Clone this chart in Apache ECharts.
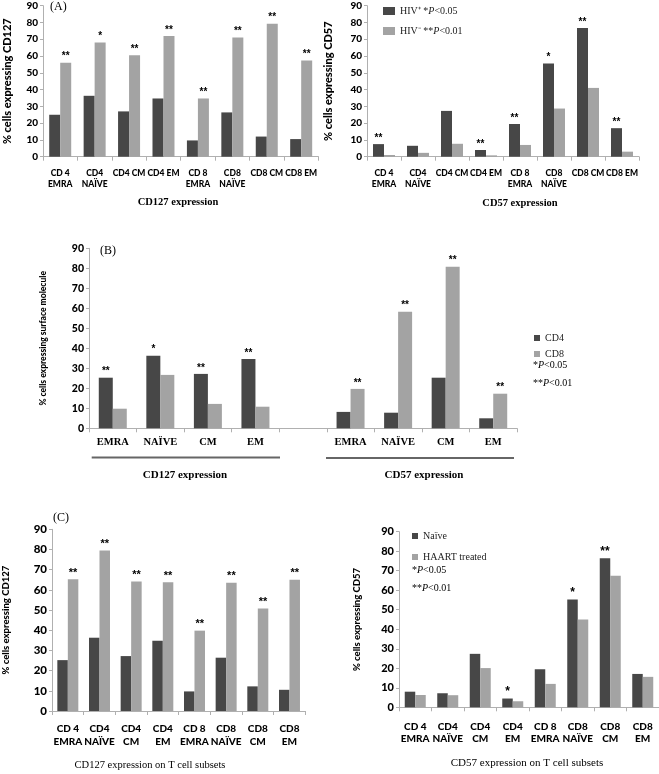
<!DOCTYPE html>
<html>
<head>
<meta charset="UTF-8">
<title>CD127 / CD57 expression</title>
<style>
  html, body { margin: 0; padding: 0; background: #fff; }
  #main { width: 659px; height: 774px; }
</style>
<script src="https://cdn.jsdelivr.net/npm/echarts@6/dist/echarts.min.js"></script>
</head>
<body>
<div id="main"></div>
<script>
  // categories
  var subsetsA = ['CD 4\nEMRA', 'CD4\nNAÏVE', 'CD4 CM', 'CD4 EM', 'CD 8\nEMRA', 'CD8\nNAÏVE', 'CD8 CM', 'CD8 EM'];
  var subsetsC = ['CD 4\nEMRA', 'CD4\nNAÏVE', 'CD4\nCM', 'CD4\nEM', 'CD 8\nEMRA', 'CD8\nNAÏVE', 'CD8\nCM', 'CD8\nEM'];
  var groupsB = ['EMRA', 'NAÏVE', 'CM', 'EM', '', 'EMRA', 'NAÏVE', 'CM', 'EM'];

  // (A) HIV+ vs HIV-
  var aCd127Pos = [25, 36.3, 27, 34.7, 9.7, 26.4, 12, 10.5];
  var aCd127Neg = [56, 68, 60.5, 72, 34.7, 71, 79.3, 57.3];
  var aCd127Sig = ['**', '*', '**', '**', '**', '**', '**', '**'];
  var aCd57Pos = [7.5, 6.5, 27.3, 4, 19.5, 55.5, 76.7, 17];
  var aCd57Neg = [1, 2.3, 7.7, 0.8, 7, 28.7, 41, 3];
  var aCd57Sig = ['**', '', '', '**', '**', '*', '**', '**'];

  // (B) CD4 vs CD8 ('-' = empty gap column)
  var bCd4 = [25.3, 36.3, 27.2, 34.7, '-', 8.2, 7.8, 25.3, 5];
  var bCd8 = [9.8, 26.7, 12.2, 10.8, '-', 19.7, 58.3, 80.8, 17.3];
  var bSig4 = ['**', '*', '**', '**', '', '', '', '', ''];
  var bSig8 = ['', '', '', '', '', '**', '**', '**', '**'];

  // (C) naive vs HAART treated
  var cCd127Naive = [25.2, 36.3, 27.2, 34.8, 9.7, 26.4, 12.2, 10.5];
  var cCd127Haart = [65.3, 79.5, 64.2, 63.8, 39.8, 63.5, 50.8, 65];
  var cCd127Sig = ['**', '**', '**', '**', '**', '**', '**', '**'];
  var cCd57Naive = [8, 7.2, 27.4, 4.5, 19.5, 55.3, 76.4, 17.1];
  var cCd57Haart = [6.3, 6.2, 20.1, 3.1, 12, 45, 67.4, 15.6];
  var cCd57Sig = ['', '', '', '*', '', '*', '**', ''];

  var DARK = '#474747';
  var LIGHT = '#a3a3a3';
  var SANS = 'Lato';
  var SERIF = 'Liberation Serif';

  var chart = echarts.init(document.getElementById('main'));

  function yAx(idx, title, gap, fs, tfs) {
    return {
      gridIndex: idx, type: 'value', min: 0, max: 90, interval: 10,
      name: title, nameLocation: 'middle', nameGap: gap,
      nameTextStyle: { fontFamily: SANS, fontWeight: 900, fontSize: tfs, color: '#000' },
      axisLine: { show: true, lineStyle: { color: '#b0b0b0' } },
      axisTick: { show: true, length: 3, lineStyle: { color: '#b0b0b0' } },
      splitLine: { show: false },
      axisLabel: { fontFamily: SANS, fontWeight: 900, fontSize: fs, color: '#000', margin: 5 }
    };
  }

  function xAx(idx, cats, fs, margin, font, lh) {
    return {
      gridIndex: idx, type: 'category', data: cats,
      axisLine: { lineStyle: { color: '#b0b0b0' } },
      axisTick: { show: true, length: 4, lineStyle: { color: '#b0b0b0' } },
      axisLabel: { interval: 0, fontFamily: font, fontWeight: font === SANS ? 900 : 'bold', fontSize: fs,
        color: '#000', margin: margin, lineHeight: lh }
    };
  }

  function bars(name, idx, data, color, width, sig, sfs) {
    return {
      name: name, type: 'bar', xAxisIndex: idx, yAxisIndex: idx, data: data,
      barWidth: width, barGap: '0%', itemStyle: { color: color },
      label: {
        show: !!sig, position: 'top', distance: 1,
        fontFamily: 'Liberation Sans', fontWeight: 'bold', fontSize: sfs, color: '#000',
        formatter: function (p) { return sig ? sig[p.dataIndex] : ''; }
      }
    };
  }

  var pRich = {
    t: { fontFamily: SERIF, fontSize: 10, color: '#222' },
    i: { fontFamily: SERIF, fontSize: 10, fontStyle: 'italic', color: '#222' }
  };

  var option = {
    animation: false,
    grid: [
      { left: 43, top: 5.7, width: 275.4, height: 151 },
      { left: 367, top: 5.7, width: 272, height: 151 },
      { left: 89, top: 248.3, width: 428, height: 180 },
      { left: 47.7, top: 529.3, width: 257.6, height: 181.7 },
      { left: 399, top: 531.7, width: 260, height: 175.6 }
    ],
    xAxis: [
      xAx(0, subsetsA, 8.5, 11, SANS, 11),
      xAx(1, subsetsA, 8.5, 11, SANS, 11),
      xAx(2, groupsB, 10.5, 8, SERIF, 12),
      xAx(3, subsetsC, 10, 11, SANS, 13),
      xAx(4, subsetsC, 10, 13, SANS, 12)
    ],
    yAxis: [
      yAx(0, '% cells expressing CD127', 30, 10, 11),
      yAx(1, '% cells expressing CD57', 33, 10, 11),
      yAx(2, '% cells expressing surface molecule', 41, 10.5, 8.5),
      yAx(3, '% cells expressing CD127', 41, 11.5, 9.5),
      yAx(4, '% cells expressing CD57', 37, 11, 9.5)
    ],
    legend: [
      {
        data: ['HIV⁺', 'HIV⁻'], orient: 'vertical', left: 383, top: 6, padding: 0,
        itemWidth: 12, itemHeight: 8, itemGap: 10, icon: 'rect',
        formatter: function (n) {
          return '{t|' + n + ' ' + (n === 'HIV⁺' ? '*' : '**') + '}{i|P}{t|<' + (n === 'HIV⁺' ? '0.05' : '0.01') + '}';
        },
        textStyle: { rich: pRich }
      },
      {
        data: ['CD4', 'CD8'], orient: 'vertical', left: 534, top: 333, padding: 0,
        itemWidth: 6, itemHeight: 6, itemGap: 6, icon: 'rect',
        textStyle: { fontFamily: SERIF, fontSize: 10, color: '#222' }
      },
      {
        data: ['Naïve', 'HAART treated'], orient: 'vertical', left: 412, top: 531, padding: 0,
        itemWidth: 6, itemHeight: 6, itemGap: 11, icon: 'rect',
        textStyle: { fontFamily: SERIF, fontSize: 10, color: '#222' }
      }
    ],
    series: [
      bars('HIV⁺', 0, aCd127Pos, DARK, 11, null, 10),
      bars('HIV⁻', 0, aCd127Neg, LIGHT, 11, aCd127Sig, 10),
      bars('HIV⁺', 1, aCd57Pos, DARK, 11, aCd57Sig, 10),
      bars('HIV⁻', 1, aCd57Neg, LIGHT, 11, null, 10),
      bars('CD4', 2, bCd4, DARK, 14, bSig4, 10),
      bars('CD8', 2, bCd8, LIGHT, 14, bSig8, 10),
      bars('Naïve', 3, cCd127Naive, DARK, 10.5, null, 11),
      bars('HAART treated', 3, cCd127Haart, LIGHT, 10.5, cCd127Sig, 11),
      bars('Naïve', 4, cCd57Naive, DARK, 10.5, cCd57Sig, 12),
      bars('HAART treated', 4, cCd57Haart, LIGHT, 10.5, null, 12)
    ],
    graphic: [
      { type: 'text', left: 50, top: 1, style: { text: '(A)', font: '12px "Liberation Serif"', fill: '#000' } },
      { type: 'text', left: 100, top: 245, style: { text: '(B)', font: '12px "Liberation Serif"', fill: '#000' } },
      { type: 'text', left: 53, top: 512, style: { text: '(C)', font: '12px "Liberation Serif"', fill: '#000' } },

      { type: 'text', x: 178, y: 202, style: { text: 'CD127 expression', font: 'bold 10.5px "Liberation Serif"', fill: '#000', align: 'center', verticalAlign: 'middle' } },
      { type: 'text', x: 520, y: 203, style: { text: 'CD57 expression', font: 'bold 10.5px "Liberation Serif"', fill: '#000', align: 'center', verticalAlign: 'middle' } },

      { type: 'line', shape: { x1: 91.7, y1: 457.5, x2: 280, y2: 457.5 }, style: { stroke: '#666', lineWidth: 2 } },
      { type: 'line', shape: { x1: 326, y1: 458, x2: 514, y2: 458 }, style: { stroke: '#666', lineWidth: 2 } },
      { type: 'text', x: 185, y: 475.5, style: { text: 'CD127 expression', font: 'bold 11px "Liberation Serif"', fill: '#000', align: 'center', verticalAlign: 'middle' } },
      { type: 'text', x: 424, y: 475.5, style: { text: 'CD57 expression', font: 'bold 11px "Liberation Serif"', fill: '#000', align: 'center', verticalAlign: 'middle' } },
      { type: 'text', left: 533, top: 360, style: { text: '{t|*}{i|P}{t|<0.05}', rich: pRich } },
      { type: 'text', left: 533, top: 378, style: { text: '{t|**}{i|P}{t|<0.01}', rich: pRich } },

      { type: 'text', x: 150, y: 765, style: { text: 'CD127 expression on T cell subsets', font: '10.5px "Liberation Serif"', fill: '#000', align: 'center', verticalAlign: 'middle' } },
      { type: 'text', x: 527, y: 763, style: { text: 'CD57 expression on T cell subsets', font: '11px "Liberation Serif"', fill: '#000', align: 'center', verticalAlign: 'middle' } },
      { type: 'text', left: 412, top: 565, style: { text: '{t|*}{i|P}{t|<0.05}', rich: pRich } },
      { type: 'text', left: 412, top: 583, style: { text: '{t|**}{i|P}{t|<0.01}', rich: pRich } }
    ]
  };

  chart.setOption(option);
</script>
</body>
</html>
